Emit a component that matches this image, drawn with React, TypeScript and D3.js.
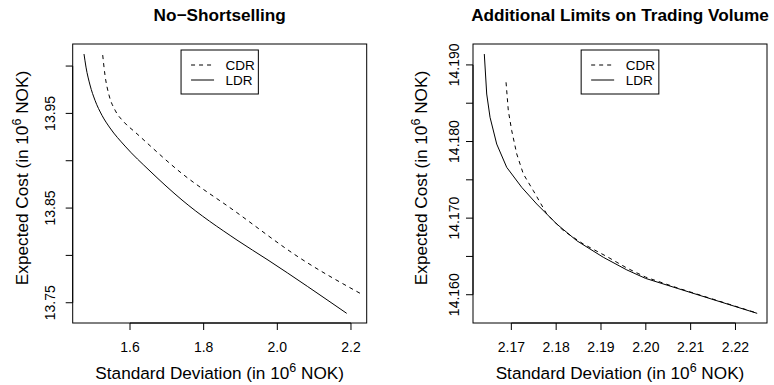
import React from "react";
import * as d3 from "d3";

// ---------- data ----------
const leftTitle = "No\u2212Shortselling";
const rightTitle = "Additional Limits on Trading Volume";
const seriesNames = ["CDR", "LDR"];

const leftLdrX = [1.4751, 1.4805, 1.4914, 1.505, 1.5240, 1.5457, 1.5864, 1.6543, 1.7412, 1.8905, 1.9747, 2.1884];
const leftLdrY = [14.0127, 13.9989, 13.9800, 13.9638, 13.9479, 13.9346, 13.9155, 13.8891, 13.8585, 13.8162, 13.7951, 13.7388];
const leftCdrX = [1.5259, 1.5321, 1.5430, 1.5593, 1.5837, 1.6136, 1.7404, 1.8805, 2.0615, 2.2335];
const leftCdrY = [14.0116, 13.9904, 13.9693, 13.9535, 13.9408, 13.9303, 13.8867, 13.8479, 13.7972, 13.7581];

const rightLdrX = [2.16397, 2.16451, 2.16525, 2.16674, 2.16897, 2.17232, 2.17567, 2.18013, 2.1846, 2.19054, 2.19576, 2.19991, 2.20699, 2.22484];
const rightLdrY = [14.19142, 14.1862, 14.18316, 14.17967, 14.17663, 14.17402, 14.17184, 14.16923, 14.16705, 14.16488, 14.16324, 14.16214, 14.16084, 14.15757];
const rightCdrX = [2.16882, 2.16933, 2.17009, 2.17121, 2.17268, 2.17491, 2.1779, 2.18161, 2.18607, 2.19129, 2.19576, 2.19991, 2.20699, 2.22484];
const rightCdrY = [14.18773, 14.18402, 14.18141, 14.17837, 14.17576, 14.17358, 14.17054, 14.16836, 14.16662, 14.16499, 14.16349, 14.16231, 14.1609, 14.1576];

const leftXTicks = [1.6, 1.8, 2.0, 2.2];
const leftXTickLabels = ["1.6", "1.8", "2.0", "2.2"];
const leftYTicks = [13.75, 13.8, 13.85, 13.9, 13.95, 14.0];
const leftYTickLabels = ["13.75", "", "13.85", "", "13.95", ""];
const rightXTicks = [2.17, 2.18, 2.19, 2.2, 2.21, 2.22];
const rightXTickLabels = ["2.17", "2.18", "2.19", "2.20", "2.21", "2.22"];
const rightYTicks = [14.16, 14.165, 14.17, 14.175, 14.18, 14.185, 14.19];
const rightYTickLabels = ["14.160", "", "14.170", "", "14.180", "", "14.190"];

const FONT = "'Liberation Sans', Arial, Helvetica, sans-serif";

type PanelProps = {
  title: string;
  left: number;
  right: number;
  top: number;
  bottom: number;
  xDomain: [number, number];
  yDomain: [number, number];
  xTicks: number[];
  xTickLabels: string[];
  yTicks: number[];
  yTickLabels: string[];
  cdrX: number[];
  cdrY: number[];
  ldrX: number[];
  ldrY: number[];
  yLabelX: number;
  yTitleX: number;
  legendW: number;
  smooth: boolean;
};

function Panel(p: PanelProps) {
  const x = d3.scaleLinear().domain(p.xDomain).range([p.left, p.right]);
  const y = d3.scaleLinear().domain(p.yDomain).range([p.bottom, p.top]);
  const line = d3
    .line<[number, number]>()
    .x((d) => x(d[0]))
    .y((d) => y(d[1]))
    .curve(p.smooth ? d3.curveMonotoneX : d3.curveLinear);
  const cdr = p.cdrX.map((v, i) => [v, p.cdrY[i]] as [number, number]);
  const ldr = p.ldrX.map((v, i) => [v, p.ldrY[i]] as [number, number]);
  const cx = (p.left + p.right) / 2;
  const tick = 7;
  const legX = cx - p.legendW / 2;
  const legY = 50;
  return (
    <g>
      <text x={cx} y={21} textAnchor="middle" fontWeight="bold" fontSize={17.2} fontFamily={FONT}>
        {p.title}
      </text>
      <rect x={p.left} y={p.top} width={p.right - p.left} height={p.bottom - p.top} fill="none" stroke="#000" strokeWidth={1} />
      {/* x axis */}
      <line x1={x(p.xTicks[0])} x2={x(p.xTicks[p.xTicks.length - 1])} y1={p.bottom} y2={p.bottom} stroke="#000" />
      {p.xTicks.map((t, i) => (
        <g key={"xt" + i}>
          <line x1={x(t)} x2={x(t)} y1={p.bottom} y2={p.bottom + tick} stroke="#000" />
          <text x={x(t)} y={352} textAnchor="middle" fontSize={14} fontFamily={FONT}>
            {p.xTickLabels[i]}
          </text>
        </g>
      ))}
      {/* y axis */}
      <line x1={p.left} x2={p.left} y1={y(p.yTicks[0])} y2={y(p.yTicks[p.yTicks.length - 1])} stroke="#000" />
      {p.yTicks.map((t, i) => (
        <g key={"yt" + i}>
          <line x1={p.left - tick} x2={p.left} y1={y(t)} y2={y(t)} stroke="#000" />
          {p.yTickLabels[i] ? (
            <text
              transform={`translate(${p.yLabelX},${y(t)}) rotate(-90)`}
              textAnchor="middle"
              fontSize={14}
              fontFamily={FONT}
            >
              {p.yTickLabels[i]}
            </text>
          ) : null}
        </g>
      ))}
      {/* axis titles */}
      <text x={cx} y={379} textAnchor="middle" fontSize={17.2} fontFamily={FONT}>
        Standard Deviation (in 10
        <tspan dy={-7} fontSize={12.5}>6</tspan>
        <tspan dy={7}> NOK)</tspan>
      </text>
      <text transform={`translate(${p.yTitleX},178) rotate(-90)`} textAnchor="middle" fontSize={17.2} fontFamily={FONT}>
        Expected Cost (in 10
        <tspan dy={-7} fontSize={12.5}>6</tspan>
        <tspan dy={7}> NOK)</tspan>
      </text>
      {/* lines */}
      <path d={line(cdr) || ""} fill="none" stroke="#000" strokeWidth={1} strokeDasharray="4,4" />
      <path d={line(ldr) || ""} fill="none" stroke="#000" strokeWidth={1} />
      {/* legend */}
      <rect x={legX} y={legY} width={p.legendW} height={44} fill="#fff" stroke="#000" strokeWidth={1} />
      {seriesNames.map((n, i) => (
        <g key={n}>
          <line
            x1={legX + 10}
            x2={legX + 33}
            y1={legY + 15 + i * 15}
            y2={legY + 15 + i * 15}
            stroke="#000"
            strokeDasharray={i === 0 ? "4,4" : undefined}
          />
          <text x={legX + 44.5} y={legY + 15 + i * 15 + 5} fontSize={13.5} fontFamily={FONT}>
            {n}
          </text>
        </g>
      ))}
    </g>
  );
}

export default function App() {
  return (
    <svg
      width={774}
      height={385}
      viewBox="0 0 774 385"
      style={{ position: "absolute", left: 0, top: 0, background: "#fff" }}
    >
      <rect x={0} y={0} width={774} height={385} fill="#fff" />
      <Panel
        title={leftTitle}
        left={72.7}
        right={366.7}
        top={44}
        bottom={323}
        xDomain={[1.4444, 2.2427]}
        yDomain={[13.7286, 14.0233]}
        xTicks={leftXTicks}
        xTickLabels={leftXTickLabels}
        yTicks={leftYTicks}
        yTickLabels={leftYTickLabels}
        cdrX={leftCdrX}
        cdrY={leftCdrY}
        ldrX={leftLdrX}
        ldrY={leftLdrY}
        yLabelX={55}
        yTitleX={28}
        legendW={77.3}
        smooth={true}
      />
      <Panel
        title={rightTitle}
        left={473}
        right={767}
        top={44}
        bottom={323}
        xDomain={[2.16145, 2.22703]}
        yDomain={[14.15631, 14.19273]}
        xTicks={rightXTicks}
        xTickLabels={rightXTickLabels}
        yTicks={rightYTicks}
        yTickLabels={rightYTickLabels}
        cdrX={rightCdrX}
        cdrY={rightCdrY}
        ldrX={rightLdrX}
        ldrY={rightLdrY}
        yLabelX={459}
        yTitleX={427}
        legendW={77.7}
        smooth={false}
      />
    </svg>
  );
}
